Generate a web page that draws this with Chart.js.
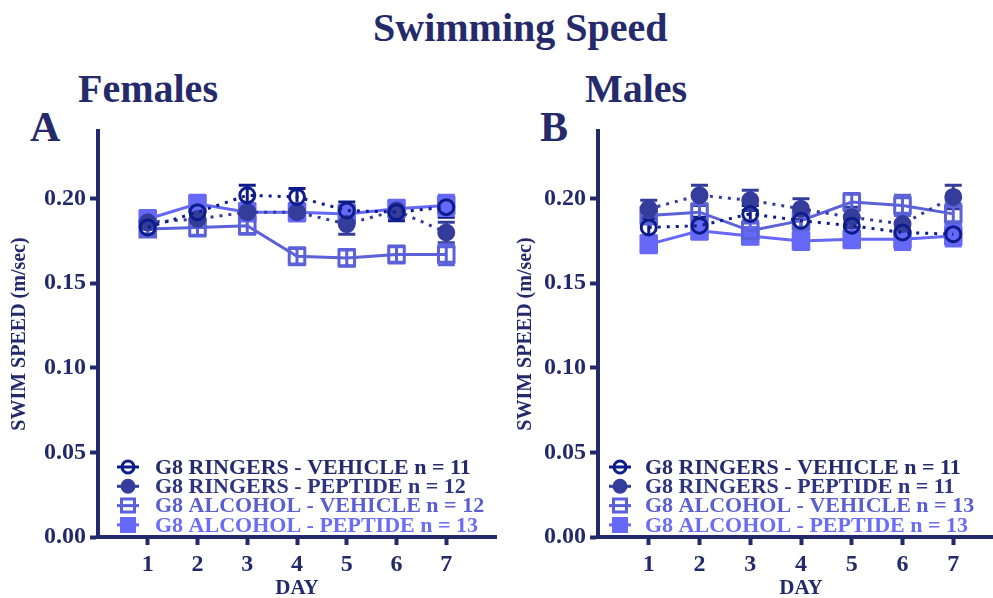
<!DOCTYPE html>
<html>
<head>
<meta charset="utf-8">
<script src="https://cdn.jsdelivr.net/npm/chart.js@4"></script>
<style>
  html, body { margin: 0; padding: 0; background: #fff; }
  body { width: 993px; height: 598px; position: relative; overflow: hidden; }
  .txt { position: absolute; font-family: 'Liberation Serif', serif; font-weight: bold; color: #252a6b; line-height: 1; white-space: nowrap; }
  canvas { position: absolute; top: 0; }
</style>
</head>
<body>
<div class="txt" style="left:373px; top:8px; font-size:40px;">Swimming Speed</div>
<div class="txt" style="left:78px; top:69px; font-size:40px;">Females</div>
<div class="txt" style="left:585px; top:69px; font-size:40px;">Males</div>
<div class="txt" style="left:30px; top:106px; font-size:42px;">A</div>
<div class="txt" style="left:540px; top:106px; font-size:42px;">B</div>
<div style="position:absolute; left:0; top:0; width:510px; height:598px;"><canvas id="females"></canvas></div>
<div style="position:absolute; left:500px; top:0; width:520px; height:598px;"><canvas id="males"></canvas></div>
<script>
const days = [1, 2, 3, 4, 5, 6, 7];
const yTicks = [0, 0.05, 0.10, 0.15, 0.20];

const seriesNames = ['G8 RINGERS - VEHICLE', 'G8 RINGERS - PEPTIDE', 'G8 ALCOHOL - VEHICLE', 'G8 ALCOHOL - PEPTIDE'];
const femaleN = [11, 12, 12, 13];
const maleN = [11, 11, 13, 13];

// females: mean swim speed (m/sec) and SEM
const fRingVeh = [0.183, 0.192, 0.202, 0.201, 0.193, 0.192, 0.195];
const fRingPep = [0.186, 0.188, 0.192, 0.192, 0.185, 0.193, 0.180];
const fAlcVeh  = [0.182, 0.183, 0.184, 0.166, 0.165, 0.167, 0.167];
const fAlcPep  = [0.188, 0.197, 0.192, 0.192, 0.191, 0.194, 0.196];
const fRingVehErr = [0.004, 0.005, 0.006, 0.005, 0.005, 0.005, 0.006];
const fRingPepErr = [0.004, 0.005, 0.005, 0.005, 0.006, 0.005, 0.006];
const fAlcVehErr  = [0.004, 0.005, 0.005, 0.005, 0.005, 0.005, 0.006];
const fAlcPepErr  = [0.005, 0.005, 0.005, 0.005, 0.005, 0.005, 0.006];

// males
const mRingVeh = [0.183, 0.184, 0.191, 0.187, 0.184, 0.180, 0.179];
const mRingPep = [0.194, 0.202, 0.199, 0.194, 0.189, 0.185, 0.201];
const mAlcVeh  = [0.190, 0.192, 0.181, 0.187, 0.198, 0.196, 0.191];
const mAlcPep  = [0.173, 0.181, 0.178, 0.175, 0.176, 0.176, 0.178];
const mRingVehErr = [0.005, 0.005, 0.005, 0.005, 0.005, 0.005, 0.005];
const mRingPepErr = [0.005, 0.006, 0.006, 0.006, 0.006, 0.005, 0.007];
const mAlcVehErr  = [0.005, 0.005, 0.006, 0.006, 0.005, 0.006, 0.006];
const mAlcPepErr  = [0.005, 0.005, 0.005, 0.005, 0.005, 0.006, 0.006];

const axisColor = '#232a6b';
const colors = ['#0c1d8a', '#343c9c', '#5b61d8', '#6668f7'];
const textColors = ['#252a6b', '#2e3580', '#5a5fd0', '#6a6df5'];
const serif = "'Liberation Serif', serif";

function makeSets(vals, errs, ns) {
  const styles = [
    { ps: 'circle', r: 7.5, fill: false, dash: [3, 6] },
    { ps: 'circle', r: 7.5, fill: true, dash: [3, 6] },
    { ps: 'rect', r: 11, fill: false, dash: [] },
    { ps: 'rect', r: 11, fill: true, dash: [] }
  ];
  return vals.map((v, i) => ({
    label: seriesNames[i] + ' n = ' + ns[i],
    data: days.map((d, j) => ({ x: d, y: v[j] })),
    errors: errs[i],
    borderColor: colors[i],
    backgroundColor: colors[i],
    borderWidth: 3,
    borderDash: styles[i].dash,
    pointStyle: styles[i].ps,
    pointRadius: styles[i].r,
    pointHoverRadius: styles[i].r,
    pointBorderWidth: 3,
    pointBorderColor: colors[i],
    pointBackgroundColor: styles[i].fill ? colors[i] : 'rgba(0,0,0,0)',
    markerFill: styles[i].fill,
    tension: 0
  }));
}

const errorBars = {
  id: 'errorBars',
  beforeDatasetsDraw(chart) {
    const ctx = chart.ctx;
    const xs = chart.scales.x, ys = chart.scales.y;
    ctx.save();
    chart.data.datasets.forEach(ds => {
      ctx.strokeStyle = ds.borderColor;
      ctx.lineWidth = 3;
      ds.data.forEach((p, j) => {
        const e = ds.errors[j];
        const x = xs.getPixelForValue(p.x);
        const y1 = ys.getPixelForValue(p.y + e);
        const y2 = ys.getPixelForValue(p.y - e);
        ctx.beginPath();
        ctx.moveTo(x, y1); ctx.lineTo(x, y2);
        ctx.moveTo(x - 8.5, y1); ctx.lineTo(x + 8.5, y1);
        ctx.moveTo(x - 8.5, y2); ctx.lineTo(x + 8.5, y2);
        ctx.stroke();
      });
    });
    ctx.restore();
  }
};

const insideLegend = {
  id: 'insideLegend',
  afterDraw(chart, args, opts) {
    const ctx = chart.ctx;
    ctx.save();
    ctx.font = 'bold 22px ' + serif;
    ctx.textBaseline = 'middle';
    chart.data.datasets.forEach((ds, i) => {
      const y = opts.y + i * 19.3;
      const mx = opts.markerX;
      ctx.strokeStyle = ds.borderColor;
      ctx.fillStyle = ds.borderColor;
      ctx.lineWidth = 3;
      ctx.beginPath();
      ctx.moveTo(mx - 11, y); ctx.lineTo(mx + 11, y);
      ctx.stroke();
      ctx.beginPath();
      if (ds.pointStyle === 'circle') {
        ctx.arc(mx, y, 6, 0, Math.PI * 2);
      } else {
        ctx.rect(mx - 6.5, y - 6.5, 13, 13);
      }
      if (ds.markerFill) ctx.fill();
      ctx.stroke();
      ctx.fillStyle = textColors[i];
      ctx.fillText(ds.label, opts.textX, y + 1);
    });
    ctx.restore();
  }
};

function makeChart(id, sets, rightPad, titlePad, legendPos) {
  return new Chart(document.getElementById(id), {
    type: 'line',
    data: { datasets: sets },
    plugins: [errorBars, insideLegend],
    options: {
      responsive: true,
      maintainAspectRatio: false,
      animation: false,
      layout: { padding: { left: 0, top: 131, right: rightPad, bottom: 0 } },
      plugins: {
        legend: { display: false },
        tooltip: { enabled: false },
        insideLegend: legendPos
      },
      scales: {
        x: {
          type: 'linear',
          min: 0, max: 8,
          afterBuildTicks: s => { s.ticks = days.map(v => ({ value: v })); },
          afterFit: s => { s.height = 61; },
          border: { display: true, color: axisColor, width: 4 },
          grid: { display: true, drawOnChartArea: false, drawTicks: true, tickLength: 8, tickWidth: 4, tickColor: axisColor },
          ticks: { color: axisColor, font: { family: serif, weight: 'bold', size: 24 }, padding: 5, maxRotation: 0 },
          title: { display: true, text: 'DAY', color: axisColor, font: { family: serif, weight: 'bold', size: 21, lineHeight: 1 }, padding: { top: 0, bottom: -1 } }
        },
        y: {
          min: 0, max: 0.24,
          afterBuildTicks: s => { s.ticks = yTicks.map(v => ({ value: v })); },
          afterFit: s => { s.width = 98; },
          border: { display: true, color: axisColor, width: 4 },
          grid: { display: true, drawOnChartArea: false, drawTicks: true, tickLength: 8, tickWidth: 4, tickColor: axisColor },
          ticks: { color: axisColor, font: { family: serif, weight: 'bold', size: 24 }, padding: 4, callback: v => v.toFixed(2) },
          title: { display: true, text: 'SWIM SPEED (m/sec)', color: axisColor, font: { family: serif, weight: 'bold', size: 20, lineHeight: 1.2 }, padding: { top: titlePad, bottom: 0 } }
        }
      }
    }
  });
}

makeChart('females',
  makeSets([fRingVeh, fRingPep, fAlcVeh, fAlcPep], [fRingVehErr, fRingPepErr, fAlcVehErr, fAlcPepErr], femaleN),
  6, 8, { y: 467, markerX: 128, textX: 155 });
makeChart('males',
  makeSets([mRingVeh, mRingPep, mAlcVeh, mAlcPep], [mRingVehErr, mRingPepErr, mAlcVehErr, mAlcPepErr], maleN),
  16, 14, { y: 467, markerX: 120, textX: 145 });
</script>
</body>
</html>
